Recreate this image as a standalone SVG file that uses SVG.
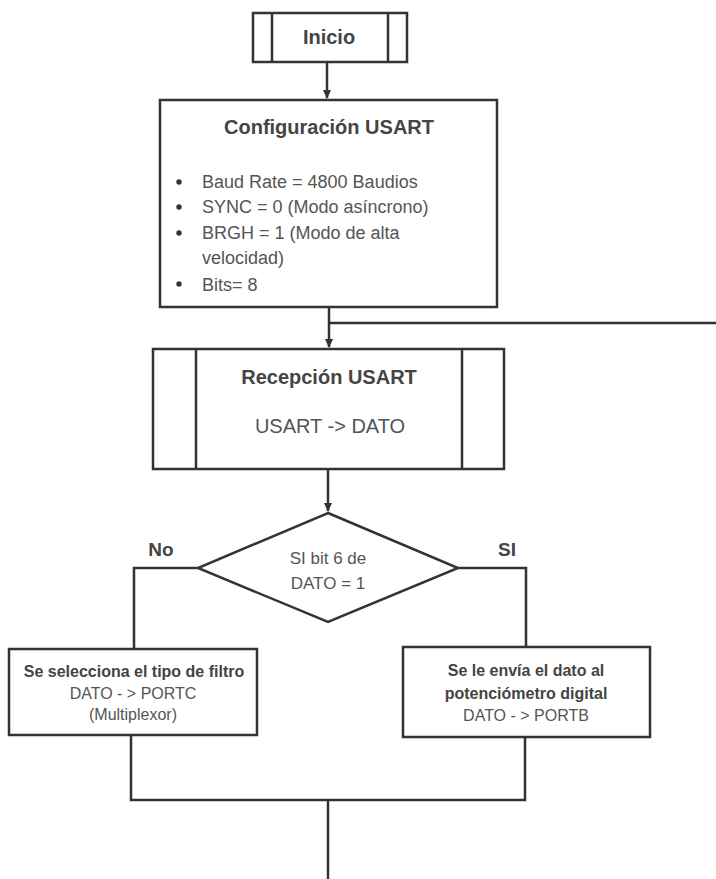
<svg xmlns="http://www.w3.org/2000/svg" width="716" height="879" viewBox="0 0 716 879">
<style>
.box{fill:#fff;stroke:#333;stroke-width:2.5}
.ln{fill:none;stroke:#333;stroke-width:2.5}
text{font-family:"Liberation Sans",Arial,sans-serif;fill:#555;text-anchor:middle}
.b{font-weight:bold;fill:#444}
.l{text-anchor:start;font-size:18px}
</style>
<defs>
<marker id="ar" markerWidth="10" markerHeight="10" refX="8" refY="5" orient="auto" markerUnits="userSpaceOnUse">
<path d="M0,1 L9,5 L0,9 Z" fill="#333"/>
</marker>
</defs>
<rect width="716" height="879" fill="#fff"/>
<g id="connectors">
<line class="ln" x1="327" y1="62" x2="327" y2="98" marker-end="url(#ar)"/>
<line class="ln" x1="329" y1="307" x2="329" y2="347" marker-end="url(#ar)"/>
<line class="ln" x1="329" y1="323" x2="716" y2="323"/>
<line class="ln" x1="328" y1="469" x2="328" y2="511" marker-end="url(#ar)"/>
<polyline class="ln" points="198,568 134,568 134,649"/>
<polyline class="ln" points="458,568 526,568 526,647"/>
<polyline class="ln" points="131,735 131,800 525,800 525,737"/>
<line class="ln" x1="328" y1="800" x2="328" y2="879"/>
</g>
<g id="inicio">
<rect class="box" x="253" y="13" width="154" height="49"/>
<line class="ln" x1="272" y1="13" x2="272" y2="62"/>
<line class="ln" x1="388" y1="13" x2="388" y2="62"/>
<text class="b" x="329" y="44" font-size="20">Inicio</text>
</g>
<g id="config">
<rect class="box" x="160" y="100" width="337" height="207"/>
<text class="b" x="329" y="134" font-size="20">Configuración USART</text>
<circle cx="179" cy="182" r="2.7" fill="#333"/>
<circle cx="179" cy="207" r="2.7" fill="#333"/>
<circle cx="179" cy="233" r="2.7" fill="#333"/>
<circle cx="179" cy="284" r="2.7" fill="#333"/>
<text class="l" x="202" y="188">Baud Rate = 4800 Baudios</text>
<text class="l" x="202" y="213">SYNC = 0 (Modo asíncrono)</text>
<text class="l" x="202" y="239">BRGH = 1 (Modo de alta</text>
<text class="l" x="202" y="264">velocidad)</text>
<text class="l" x="202" y="291">Bits= 8</text>
</g>
<g id="recepcion">
<rect class="box" x="153" y="349" width="351" height="120"/>
<line class="ln" x1="196" y1="349" x2="196" y2="469"/>
<line class="ln" x1="462" y1="349" x2="462" y2="469"/>
<text class="b" x="329" y="384" font-size="20">Recepción USART</text>
<text x="330" y="433" font-size="20">USART -&gt; DATO</text>
</g>
<g id="decision">
<polygon class="box" points="328,513 458,568 328,622 198,568"/>
<text x="328" y="564" font-size="17">SI bit 6 de</text>
<text x="328" y="589" font-size="17">DATO = 1</text>
</g>
<g id="labels">
<text class="b" x="161" y="556" font-size="19">No</text>
<text class="b" x="507" y="556" font-size="19">SI</text>
</g>
<g id="filtro">
<rect class="box" x="9" y="649" width="248" height="86"/>
<text class="b" x="134" y="677" font-size="16">Se selecciona el tipo de filtro</text>
<text x="133" y="699" font-size="16">DATO - &gt; PORTC</text>
<text x="133" y="720" font-size="16">(Multiplexor)</text>
</g>
<g id="potenciometro">
<rect class="box" x="403" y="647" width="247" height="90"/>
<text class="b" x="526" y="676" font-size="16">Se le envía el dato al</text>
<text class="b" x="526" y="699" font-size="16">potenciómetro digital</text>
<text x="526" y="721" font-size="16">DATO - &gt; PORTB</text>
</g>
</svg>
